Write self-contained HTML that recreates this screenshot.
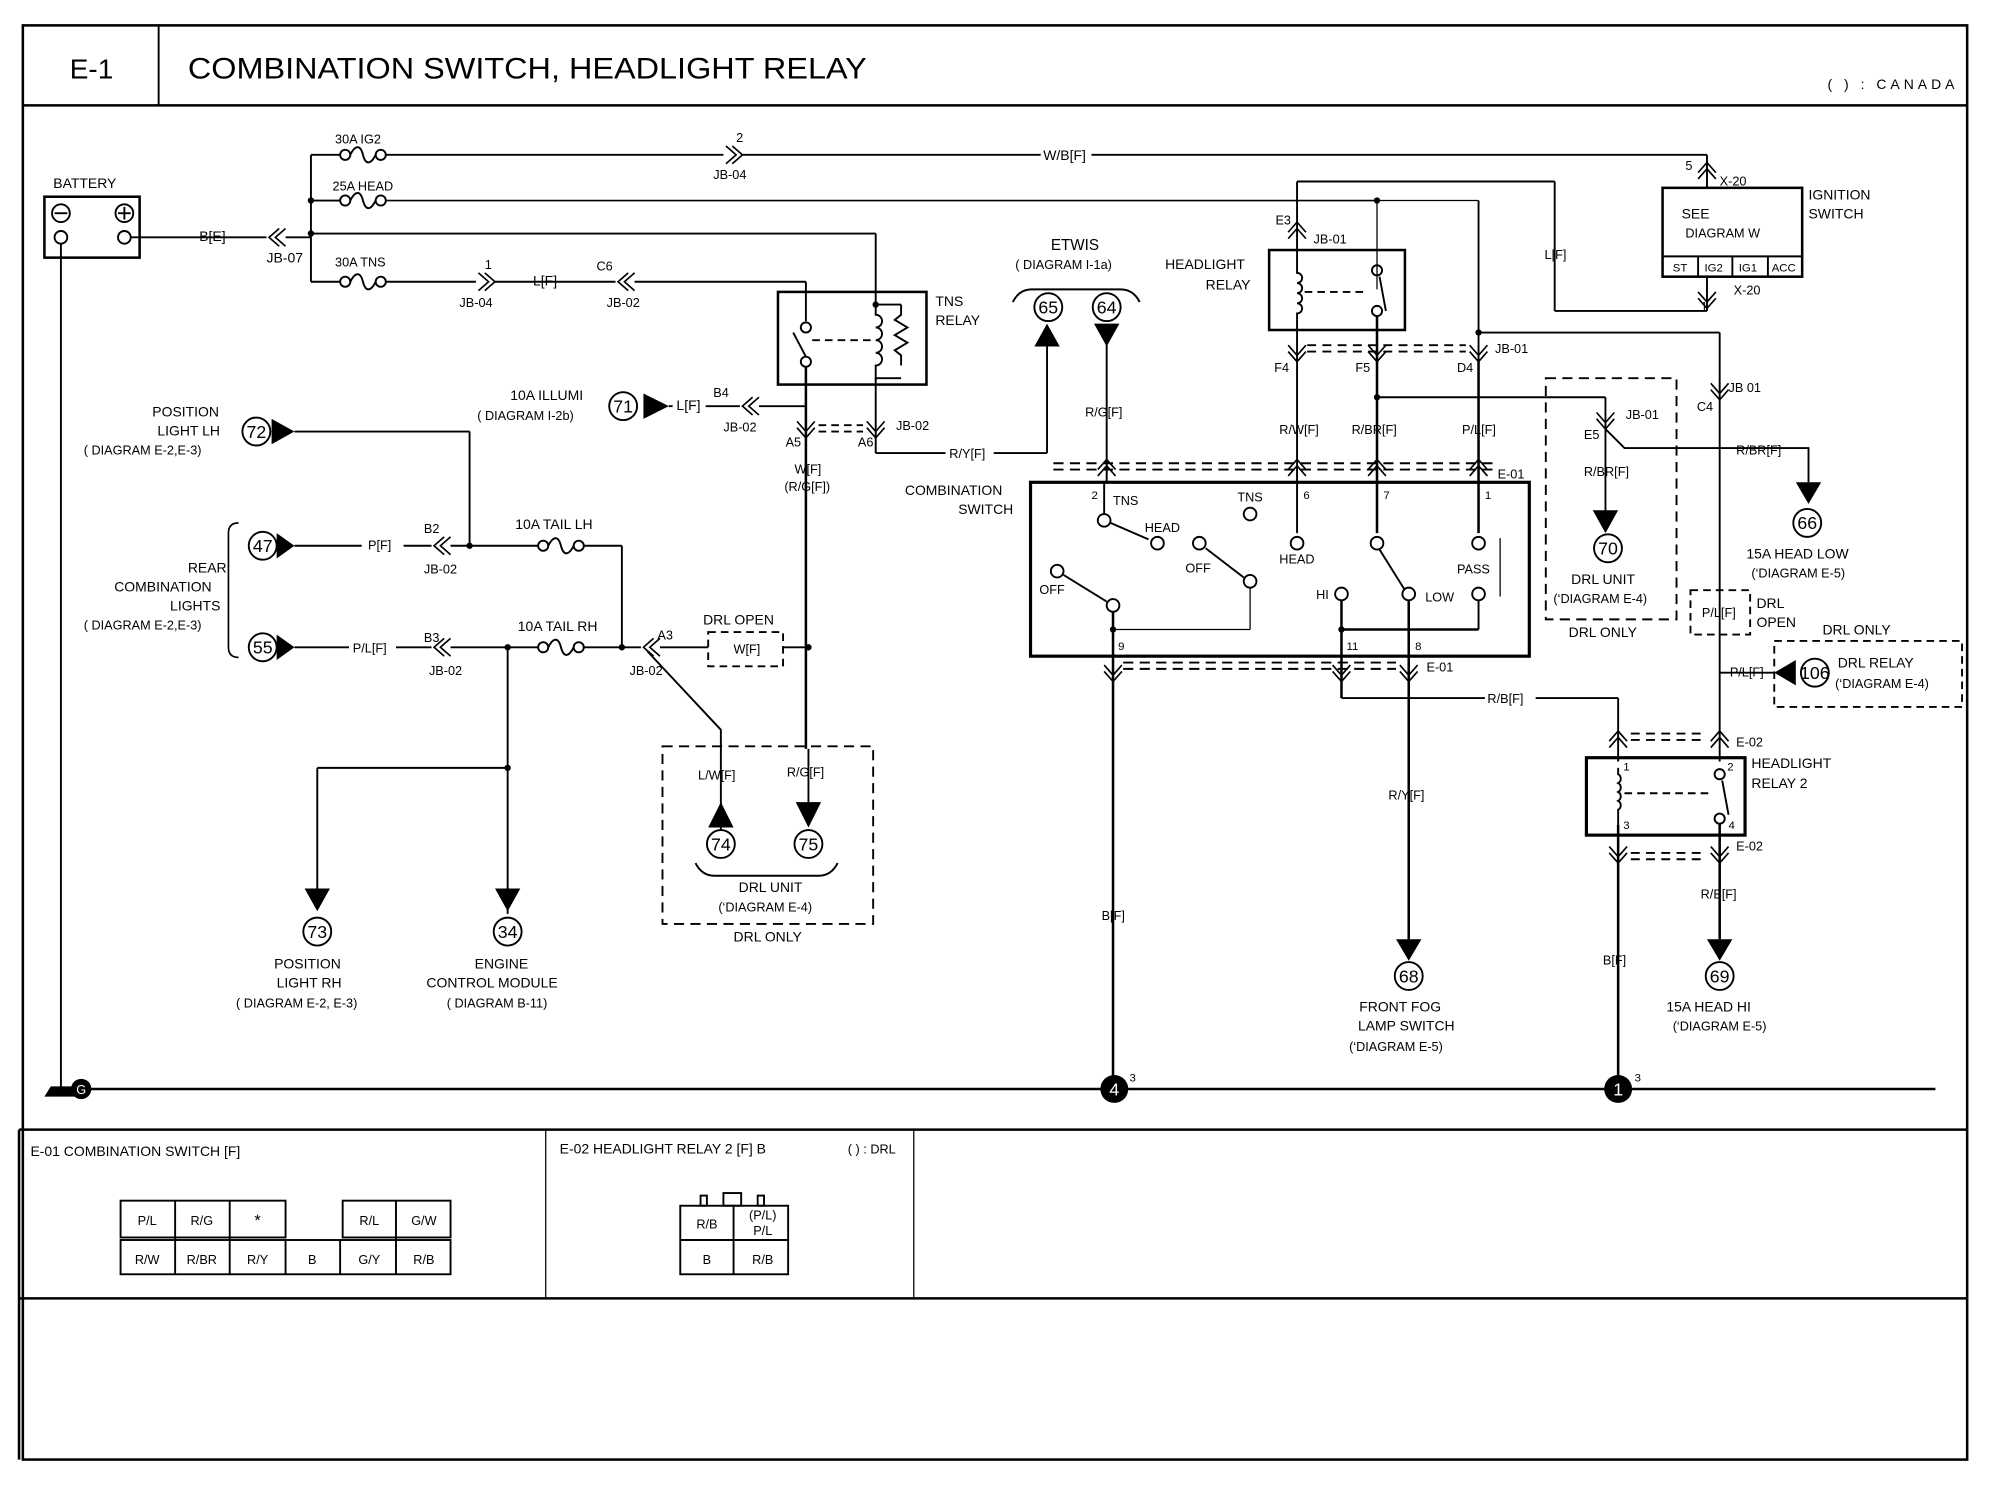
<!DOCTYPE html>
<html><head><style>
html,body{margin:0;padding:0;background:#fff}
svg{display:block}
text{font-family:"Liberation Sans",sans-serif;fill:#000}
</style></head><body>
<svg width="1990" height="1504" viewBox="0 0 1568 1185" preserveAspectRatio="none" xmlns="http://www.w3.org/2000/svg">
<defs>
<g id="cl" fill="none" stroke="#000" stroke-width="1.3"><polyline points="8,-7 0,0 8,7"/><polyline points="13,-7 5,0 13,7"/></g>
<g id="cr" fill="none" stroke="#000" stroke-width="1.3"><polyline points="-8,-7 0,0 -8,7"/><polyline points="-13,-7 -5,0 -13,7"/></g>
<g id="cd" fill="none" stroke="#000" stroke-width="1.3"><polyline points="-7,-8 0,0 7,-8"/><polyline points="-7,-13 0,-5 7,-13"/></g>
<g id="cu" fill="none" stroke="#000" stroke-width="1.3"><polyline points="-7,8 0,0 7,8"/><polyline points="-7,13 0,5 7,13"/></g>
<g id="fuse" fill="none" stroke="#000" stroke-width="1.5"><circle cx="4" cy="0" r="4"/><circle cx="32" cy="0" r="4"/><path d="M8,0 c4,-8 8,-8 10,0 c2,8 6,8 10,0"/></g>
</defs>
<g fill="none" stroke="#000">
<rect x="18" y="20" width="1532" height="1130" stroke-width="2"/>
<line x1="18" y1="83" x2="1550" y2="83" stroke-width="2"/>
<line x1="125" y1="20" x2="125" y2="83" stroke-width="1.5"/>
<line x1="15" y1="890" x2="1550" y2="890" stroke-width="2"/>
<line x1="15" y1="1023" x2="1550" y2="1023" stroke-width="2"/>
<line x1="430" y1="890" x2="430" y2="1023"/>
<line x1="720" y1="890" x2="720" y2="1023"/>
<line x1="15" y1="890" x2="15" y2="1150" stroke-width="2"/>
</g>
<text x="55" y="62" font-size="22">E-1</text>
<text x="148" y="62" font-size="23" textLength="535" lengthAdjust="spacingAndGlyphs">COMBINATION SWITCH, HEADLIGHT RELAY</text>
<text x="1440" y="70" font-size="11" textLength="100">(    ) : CANADA</text>

<g fill="none" stroke="#000" stroke-width="1.5">
<rect x="35" y="155" width="75" height="48" stroke-width="2"/>
<circle cx="48" cy="168" r="7"/><line x1="43" y1="168" x2="53" y2="168"/>
<circle cx="98" cy="168" r="7"/><line x1="93" y1="168" x2="103" y2="168"/><line x1="98" y1="163" x2="98" y2="173"/>
<circle cx="48" cy="187" r="5"/><circle cx="98" cy="187" r="5"/>
<line x1="48" y1="192" x2="48" y2="858"/>
<line x1="103" y1="187" x2="210" y2="187"/>
<line x1="225" y1="187" x2="245" y2="187"/>
<line x1="245" y1="122" x2="245" y2="222"/>
<line x1="245" y1="122" x2="268" y2="122"/><line x1="304" y1="122" x2="570" y2="122"/><line x1="585" y1="122" x2="820" y2="122"/><line x1="860" y1="122" x2="1345" y2="122"/><line x1="1345" y1="122" x2="1345" y2="148"/>
<line x1="245" y1="158" x2="268" y2="158"/><line x1="304" y1="158" x2="1085" y2="158" stroke-width="1.3"/>
<line x1="1085" y1="158" x2="1165" y2="158" stroke-width="1"/><line x1="1165" y1="158" x2="1165" y2="285"/>
<line x1="1085" y1="158" x2="1085" y2="228" stroke-width="1"/>
<line x1="1022" y1="143" x2="1225" y2="143"/><line x1="1022" y1="143" x2="1022" y2="210"/>
<line x1="1225" y1="143" x2="1225" y2="245"/><line x1="1225" y1="245" x2="1345" y2="245"/><line x1="1345" y1="245" x2="1345" y2="218"/>
<line x1="1165" y1="262" x2="1355" y2="262"/><line x1="1355" y1="262" x2="1355" y2="600"/>
<line x1="245" y1="184" x2="690" y2="184"/><line x1="690" y1="184" x2="690" y2="238"/>
<line x1="245" y1="222" x2="268" y2="222"/><line x1="304" y1="222" x2="375" y2="222"/><line x1="390" y1="222" x2="485" y2="222"/><line x1="500" y1="222" x2="635" y2="222"/><line x1="635" y1="222" x2="635" y2="253"/>
<rect x="613" y="230" width="117" height="73" stroke-width="2"/>
<circle cx="635" cy="258" r="4"/><circle cx="635" cy="285" r="4"/><line x1="635" y1="281" x2="625" y2="262"/>
<line x1="640" y1="268" x2="688" y2="268" stroke-dasharray="6,4"/>
<path d="M690,238 v10 a5,5 0 0 1 0,10 a5,5 0 0 1 0,10 a5,5 0 0 1 0,10 a5,5 0 0 1 0,10 v12"/>
<line x1="690" y1="240" x2="710" y2="240"/><line x1="690" y1="298" x2="710" y2="298"/>
<path d="M710,240 v8 l-5,4 l10,6 l-10,6 l10,6 l-10,6 l5,4 v8"/>
<line x1="635" y1="289" x2="635" y2="590" stroke-width="2"/>
<line x1="690" y1="298" x2="690" y2="357"/><line x1="690" y1="357" x2="745" y2="357"/><line x1="783" y1="357" x2="825" y2="357"/><line x1="825" y1="357" x2="825" y2="270"/>
<line x1="645" y1="335" x2="680" y2="335" stroke-dasharray="6,4"/><line x1="645" y1="340" x2="680" y2="340" stroke-dasharray="6,4"/>
<line x1="635" y1="320" x2="598" y2="320"/><line x1="583" y1="320" x2="556" y2="320"/><line x1="530" y1="320" x2="527" y2="320"/>
<line x1="370" y1="340" x2="232" y2="340"/><line x1="370" y1="340" x2="370" y2="430"/>
<line x1="232" y1="430" x2="285" y2="430"/><line x1="318" y1="430" x2="340" y2="430"/><line x1="355" y1="430" x2="424" y2="430"/><line x1="460" y1="430" x2="490" y2="430"/><line x1="490" y1="430" x2="490" y2="510"/>
<line x1="232" y1="510" x2="275" y2="510"/><line x1="312" y1="510" x2="340" y2="510"/><line x1="355" y1="510" x2="424" y2="510"/><line x1="460" y1="510" x2="505" y2="510"/><line x1="520" y1="510" x2="558" y2="510"/><line x1="617" y1="510" x2="637" y2="510"/>
<rect x="558" y="498" width="59" height="27" stroke-dasharray="6,4"/>
<line x1="400" y1="510" x2="400" y2="720"/><line x1="400" y1="605" x2="250" y2="605"/><line x1="250" y1="605" x2="250" y2="715"/>
<polyline points="510,513 568,575 568,640"/>
<rect x="522" y="588" width="166" height="140" stroke-dasharray="8,5"/>
<path d="M548,680 q5,10 15,10 h82 q10,0 15,-10"/>
<path d="M188,412 q-8,0 -8,8 v90 q0,8 8,8" stroke-width="1.3"/>
<line x1="637" y1="590" x2="637" y2="635"/><line x1="568" y1="635" x2="568" y2="655"/>
<path d="M798,238 q5,-10 15,-10 h70 q10,0 15,10"/>
<line x1="872" y1="270" x2="872" y2="380"/>
<rect x="1000" y="197" width="107" height="63" stroke-width="2"/>
<path d="M1022,210 v5 a4,4 0 0 1 0,8 a4,4 0 0 1 0,8 a4,4 0 0 1 0,8 a4,4 0 0 1 0,8 v5"/>
<line x1="1028" y1="230" x2="1075" y2="230" stroke-dasharray="6,4"/>
<circle cx="1085" cy="213" r="4"/><circle cx="1085" cy="245" r="4"/><line x1="1087" y1="218" x2="1092" y2="245"/>
<line x1="1022" y1="252" x2="1022" y2="420"/><line x1="1085" y1="249" x2="1085" y2="420" stroke-width="2"/><line x1="1165" y1="285" x2="1165" y2="420" stroke-width="2"/>
<line x1="1030" y1="272" x2="1155" y2="272" stroke-dasharray="7,5"/><line x1="1030" y1="277" x2="1155" y2="277" stroke-dasharray="7,5"/>
<line x1="1085" y1="313" x2="1265" y2="313"/><polyline points="1265,313 1265,338 1280,353 1420,353 1425,353 1425,380"/>
<line x1="1265" y1="338" x2="1265" y2="405"/>
<rect x="1218" y="298" width="103" height="190" stroke-dasharray="8,5"/>
<rect x="1332" y="465" width="47" height="35" stroke-dasharray="6,4"/>
<rect x="1398" y="505" width="148" height="52" stroke-dasharray="6,4"/>
<line x1="1355" y1="530" x2="1380" y2="530"/><line x1="1380" y1="530" x2="1398" y2="530"/>
<rect x="1310" y="148" width="110" height="70" stroke-width="2"/>
<line x1="1310" y1="202" x2="1420" y2="202"/><line x1="1338" y1="202" x2="1338" y2="218"/><line x1="1365" y1="202" x2="1365" y2="218"/><line x1="1393" y1="202" x2="1393" y2="218"/>
<rect x="812" y="380" width="393" height="137" stroke-width="2.5"/>
<line x1="830" y1="365" x2="1180" y2="365" stroke-dasharray="8,5"/><line x1="830" y1="370" x2="1180" y2="370" stroke-dasharray="8,5"/>
<line x1="870" y1="380" x2="870" y2="405"/><circle cx="870" cy="410" r="5"/><line x1="875" y1="412" x2="905" y2="425"/><circle cx="912" cy="428" r="5"/>
<circle cx="985" cy="405" r="5"/>
<circle cx="1022" cy="428" r="5"/><circle cx="1085" cy="428" r="5"/><circle cx="1165" cy="428" r="5"/>
<line x1="1087" y1="433" x2="1107" y2="465"/>
<circle cx="945" cy="428" r="5"/><circle cx="985" cy="458" r="5"/><line x1="980" y1="455" x2="950" y2="432"/><line x1="985" y1="463" x2="985" y2="496" stroke-width="1"/>
<circle cx="833" cy="450" r="5"/><circle cx="877" cy="477" r="5"/><line x1="872" y1="474" x2="838" y2="453"/>
<line x1="877" y1="482" x2="877" y2="858" stroke-width="2"/><line x1="877" y1="496" x2="985" y2="496" stroke-width="1"/>
<circle cx="1057" cy="468" r="5"/><circle cx="1110" cy="468" r="5"/><circle cx="1165" cy="468" r="5"/>
<line x1="1182" y1="424" x2="1182" y2="470" stroke-width="1"/>
<line x1="1057" y1="473" x2="1057" y2="550" stroke-width="2"/><line x1="1057" y1="496" x2="1165" y2="496" stroke-width="2"/><line x1="1165" y1="473" x2="1165" y2="496"/>
<line x1="1110" y1="473" x2="1110" y2="740" stroke-width="2"/>
<line x1="885" y1="522" x2="1100" y2="522" stroke-dasharray="8,5"/><line x1="885" y1="527" x2="1100" y2="527" stroke-dasharray="8,5"/>
<line x1="1057" y1="550" x2="1170" y2="550"/><line x1="1210" y1="550" x2="1275" y2="550"/><line x1="1275" y1="550" x2="1275" y2="600"/>
<rect x="1250" y="597" width="125" height="61" stroke-width="2.5"/>
<path d="M1275,605 v5 a4,4 0 0 1 0,7 a4,4 0 0 1 0,7 a4,4 0 0 1 0,7 a4,4 0 0 1 0,7 v12"/>
<line x1="1280" y1="625" x2="1350" y2="625" stroke-dasharray="6,4"/>
<circle cx="1355" cy="610" r="4"/><circle cx="1355" cy="645" r="4"/><line x1="1357" y1="615" x2="1362" y2="642"/>
<line x1="1275" y1="650" x2="1275" y2="858" stroke-width="2"/><line x1="1355" y1="649" x2="1355" y2="740" stroke-width="2"/>
<line x1="1285" y1="578" x2="1345" y2="578" stroke-dasharray="7,5"/><line x1="1285" y1="583" x2="1345" y2="583" stroke-dasharray="7,5"/>
<line x1="1285" y1="672" x2="1345" y2="672" stroke-dasharray="7,5"/><line x1="1285" y1="677" x2="1345" y2="677" stroke-dasharray="7,5"/>
<line x1="60" y1="858" x2="1525" y2="858" stroke-width="2"/>
</g>
<use href="#fuse" x="268" y="122"/><use href="#fuse" x="268" y="158"/><use href="#fuse" x="268" y="222"/>
<use href="#fuse" x="424" y="430"/><use href="#fuse" x="424" y="510"/>
<use href="#cl" x="212" y="187"/><use href="#cr" x="585" y="122"/><use href="#cr" x="390" y="222"/><use href="#cl" x="487" y="222"/>
<use href="#cl" x="585" y="320"/><use href="#cl" x="342" y="430"/><use href="#cl" x="342" y="510"/><use href="#cl" x="507" y="510"/>
<use href="#cd" x="635" y="345"/><use href="#cd" x="690" y="345"/>
<use href="#cu" x="1345" y="128"/><use href="#cd" x="1345" y="243"/><use href="#cu" x="1022" y="175"/>
<use href="#cd" x="1022" y="285"/><use href="#cd" x="1085" y="285"/><use href="#cd" x="1165" y="285"/><use href="#cd" x="1355" y="315"/><use href="#cd" x="1265" y="338"/>
<use href="#cu" x="872" y="362"/><use href="#cu" x="1022" y="362"/><use href="#cu" x="1085" y="362"/><use href="#cu" x="1165" y="362"/>
<use href="#cd" x="877" y="537"/><use href="#cd" x="1057" y="537"/><use href="#cd" x="1110" y="537"/>
<use href="#cu" x="1275" y="576"/><use href="#cu" x="1355" y="576"/><use href="#cd" x="1275" y="680"/><use href="#cd" x="1355" y="680"/>
<g fill="#000">
<circle cx="370" cy="430" r="2.5"/><circle cx="400" cy="510" r="2.5"/><circle cx="490" cy="510" r="2.5"/><circle cx="637" cy="510" r="2.5"/><circle cx="400" cy="605" r="2.5"/>
<circle cx="245" cy="158" r="2.5"/><circle cx="245" cy="184" r="2.5"/><circle cx="1085" cy="158" r="2.5"/><circle cx="1165" cy="262" r="2.5"/><circle cx="1085" cy="313" r="2.5"/>
<circle cx="877" cy="496" r="2.5"/><circle cx="1057" cy="496" r="2.5"/><circle cx="690" cy="240" r="2.5"/>
<polygon points="527,320 507,310 507,330"/><polygon points="232,340 214,330 214,350"/><polygon points="232,430 218,420 218,440"/><polygon points="232,510 218,500 218,520"/>
<polygon points="250,718 240,700 260,700"/><polygon points="400,718 390,700 410,700"/><polygon points="568,632 558,652 578,652"/><polygon points="637,652 627,632 647,632"/>
<polygon points="825,255 815,273 835,273"/><polygon points="872,273 862,255 882,255"/>
<polygon points="1265,420 1255,402 1275,402"/><polygon points="1425,397 1415,380 1435,380"/><polygon points="1110,757 1100,740 1120,740"/><polygon points="1355,757 1345,740 1365,740"/>
<polygon points="1398,530 1415,520 1415,540"/>
<circle cx="878" cy="858" r="11"/><circle cx="1275" cy="858" r="11"/>
<path d="M35,864 l5,-8 h20 l5,8 z"/><circle cx="64" cy="858" r="8" fill="#000"/>
</g>
<g fill="#fff" stroke="#000" stroke-width="1.5">
<circle cx="491" cy="320" r="11"/><circle cx="202" cy="340" r="11"/><circle cx="207" cy="430" r="11"/><circle cx="207" cy="510" r="11"/>
<circle cx="250" cy="734" r="11"/><circle cx="400" cy="734" r="11"/><circle cx="568" cy="665" r="11"/><circle cx="637" cy="665" r="11"/>
<circle cx="826" cy="242" r="11"/><circle cx="872" cy="242" r="11"/><circle cx="1267" cy="432" r="11"/><circle cx="1424" cy="412" r="11"/>
<circle cx="1430" cy="530" r="11"/><circle cx="1110" cy="769" r="11"/><circle cx="1355" cy="769" r="11"/>
</g>
<g font-size="14" text-anchor="middle">
<text x="491" y="325">71</text><text x="202" y="345">72</text><text x="207" y="435">47</text><text x="207" y="515">55</text>
<text x="250" y="739">73</text><text x="400" y="739">34</text><text x="568" y="670">74</text><text x="637" y="670">75</text>
<text x="826" y="247">65</text><text x="872" y="247">64</text><text x="1267" y="437">70</text><text x="1424" y="417">66</text>
<text x="1430" y="535">106</text><text x="1110" y="774">68</text><text x="1355" y="774">69</text>
<text x="878" y="863" style="fill:#fff">4</text><text x="1275" y="863" style="fill:#fff">1</text><text x="64" y="862" font-size="10" style="fill:#fff">G</text>
</g>
<g font-size="11">
<text x="42" y="148">BATTERY</text><text x="157" y="190">B[E]</text><text x="210" y="207">JB-07</text>
<text x="264" y="113" font-size="10">30A IG2</text><text x="262" y="150" font-size="10">25A HEAD</text><text x="264" y="210" font-size="10">30A TNS</text>
<text x="580" y="112" font-size="10">2</text><text x="562" y="141" font-size="10">JB-04</text><text x="822" y="126">W/B[F]</text>
<text x="382" y="212" font-size="10">1</text><text x="362" y="242" font-size="10">JB-04</text><text x="420" y="225">L[F]</text><text x="470" y="213" font-size="10">C6</text><text x="478" y="242" font-size="10">JB-02</text>
<text x="737" y="241">TNS</text><text x="737" y="256">RELAY</text>
<text x="402" y="315">10A ILLUMI</text><text x="376" y="331" font-size="10">( DIAGRAM  I-2b)</text>
<text x="533" y="323">L[F]</text><text x="562" y="313" font-size="10">B4</text><text x="570" y="340" font-size="10">JB-02</text>
<text x="619" y="352" font-size="10">A5</text><text x="676" y="352" font-size="10">A6</text><text x="706" y="339" font-size="10">JB-02</text>
<text x="626" y="373" font-size="10">W[F]</text><text x="618" y="387" font-size="10">(R/G[F])</text><text x="748" y="361" font-size="10">R/Y[F]</text>
<text x="120" y="328">POSITION</text><text x="124" y="343">LIGHT LH</text><text x="66" y="358" font-size="10">( DIAGRAM  E-2,E-3)</text>
<text x="148" y="451">REAR</text><text x="90" y="466">COMBINATION</text><text x="134" y="481">LIGHTS</text><text x="66" y="496" font-size="10">( DIAGRAM  E-2,E-3)</text>
<text x="290" y="433" font-size="10">P[F]</text><text x="334" y="420" font-size="10">B2</text><text x="334" y="452" font-size="10">JB-02</text>
<text x="406" y="417">10A TAIL LH</text><text x="408" y="497">10A TAIL RH</text>
<text x="278" y="514" font-size="10">P/L[F]</text><text x="334" y="506" font-size="10">B3</text><text x="338" y="532" font-size="10">JB-02</text>
<text x="518" y="504" font-size="10">A3</text><text x="496" y="532" font-size="10">JB-02</text><text x="554" y="492">DRL OPEN</text><text x="578" y="515" font-size="10">W[F]</text>
<text x="550" y="614" font-size="10">L/W[F]</text><text x="620" y="612" font-size="10">R/G[F]</text>
<text x="582" y="703">DRL UNIT</text><text x="566" y="718" font-size="10">(‘DIAGRAM  E-4)</text><text x="578" y="742">DRL ONLY</text>
<text x="216" y="763">POSITION</text><text x="218" y="778">LIGHT RH</text><text x="186" y="794" font-size="10">( DIAGRAM  E-2, E-3)</text>
<text x="374" y="763">ENGINE</text><text x="336" y="778">CONTROL MODULE</text><text x="352" y="794" font-size="10">( DIAGRAM  B-11)</text>
<text x="828" y="197" font-size="12">ETWIS</text><text x="800" y="212" font-size="10">( DIAGRAM  I-1a)</text>
<text x="855" y="328" font-size="10">R/G[F]</text>
<text x="918" y="212">HEADLIGHT</text><text x="950" y="228">RELAY</text>
<text x="1005" y="177" font-size="10">E3</text><text x="1035" y="192" font-size="10">JB-01</text>
<text x="1004" y="293" font-size="10">F4</text><text x="1068" y="293" font-size="10">F5</text><text x="1148" y="293" font-size="10">D4</text><text x="1178" y="278" font-size="10">JB-01</text>
<text x="1217" y="204" font-size="10">L[F]</text>
<text x="1325" y="172">SEE</text><text x="1328" y="187" font-size="10">DIAGRAM W</text>
<text x="1318" y="214" font-size="9">ST</text><text x="1343" y="214" font-size="9">IG2</text><text x="1370" y="214" font-size="9">IG1</text><text x="1396" y="214" font-size="9">ACC</text>
<text x="1425" y="157">IGNITION</text><text x="1425" y="172">SWITCH</text>
<text x="1328" y="134" font-size="10">5</text><text x="1355" y="146" font-size="10">X-20</text><text x="1366" y="232" font-size="10">X-20</text><text x="1340" y="245" font-size="10">1</text>
<text x="1008" y="342" font-size="10">R/W[F]</text><text x="1065" y="342" font-size="10">R/BR[F]</text><text x="1152" y="342" font-size="10">P/L[F]</text>
<text x="1180" y="377" font-size="10">E-01</text>
<text x="713" y="390">COMBINATION</text><text x="755" y="405">SWITCH</text>
<text x="860" y="393" font-size="9">2</text><text x="877" y="398" font-size="10">TNS</text><text x="902" y="419" font-size="10">HEAD</text><text x="975" y="395" font-size="10">TNS</text>
<text x="1027" y="393" font-size="9">6</text><text x="1090" y="393" font-size="9">7</text><text x="1170" y="393" font-size="9">1</text>
<text x="819" y="468" font-size="10">OFF</text><text x="934" y="451" font-size="10">OFF</text><text x="1008" y="444" font-size="10">HEAD</text>
<text x="1148" y="452" font-size="10">PASS</text><text x="1037" y="472" font-size="10">HI</text><text x="1123" y="474" font-size="10">LOW</text>
<text x="881" y="512" font-size="9">9</text><text x="1061" y="512" font-size="9">11</text><text x="1115" y="512" font-size="9">8</text><text x="1124" y="529" font-size="10">E-01</text>
<text x="1172" y="554" font-size="10">R/B[F]</text><text x="1094" y="630" font-size="10">R/Y[F]</text><text x="868" y="725" font-size="10">B[F]</text>
<text x="1071" y="797">FRONT FOG</text><text x="1070" y="812">LAMP SWITCH</text><text x="1063" y="828" font-size="10">(‘DIAGRAM  E-5)</text>
<text x="1362" y="309" font-size="10">JB 01</text><text x="1337" y="324" font-size="10">C4</text>
<text x="1281" y="330" font-size="10">JB-01</text><text x="1248" y="346" font-size="10">E5</text><text x="1368" y="358" font-size="10">R/BR[F]</text>
<text x="1248" y="375" font-size="10">R/BR[F]</text>
<text x="1238" y="460">DRL UNIT</text><text x="1224" y="475" font-size="10">(‘DIAGRAM  E-4)</text><text x="1236" y="502">DRL ONLY</text>
<text x="1376" y="440">15A HEAD LOW</text><text x="1380" y="455" font-size="10">(‘DIAGRAM  E-5)</text>
<text x="1341" y="486" font-size="10">P/L[F]</text><text x="1384" y="479">DRL</text><text x="1384" y="494">OPEN</text><text x="1436" y="500">DRL ONLY</text>
<text x="1448" y="526">DRL RELAY</text><text x="1446" y="542" font-size="10">(‘DIAGRAM  E-4)</text><text x="1363" y="533" font-size="10">P/L[F]</text>
<text x="1368" y="588" font-size="10">E-02</text><text x="1368" y="670" font-size="10">E-02</text>
<text x="1380" y="605">HEADLIGHT</text><text x="1380" y="621">RELAY 2</text>
<text x="1279" y="607" font-size="9">1</text><text x="1361" y="607" font-size="9">2</text><text x="1279" y="653" font-size="9">3</text><text x="1362" y="653" font-size="9">4</text>
<text x="1340" y="708" font-size="10">R/B[F]</text><text x="1263" y="760" font-size="10">B[F]</text>
<text x="1313" y="797">15A HEAD HI</text><text x="1318" y="812" font-size="10">(‘DIAGRAM  E-5)</text>
<text x="890" y="852" font-size="9">3</text><text x="1288" y="852" font-size="9">3</text>
<text x="24" y="911">E-01 COMBINATION SWITCH [F]</text><text x="441" y="909">E-02 HEADLIGHT RELAY 2 [F] B</text><text x="668" y="909" font-size="10">( ) : DRL</text>
</g>
<g fill="none" stroke="#000" stroke-width="1.5">
<rect x="95" y="946" width="130" height="29"/><rect x="270" y="946" width="85" height="29"/>
<rect x="95" y="977" width="260" height="27"/>
<line x1="138" y1="946" x2="138" y2="1004"/><line x1="181" y1="946" x2="181" y2="1004"/><line x1="225" y1="977" x2="225" y2="1004"/><line x1="268" y1="977" x2="268" y2="1004"/><line x1="312" y1="946" x2="312" y2="1004"/>
<rect x="536" y="950" width="85" height="54"/><line x1="536" y1="977" x2="621" y2="977"/><line x1="578" y1="950" x2="578" y2="1004"/>
<rect x="552" y="942" width="5" height="8"/><rect x="570" y="940" width="14" height="10"/><rect x="597" y="942" width="5" height="8"/>
</g>
<g font-size="10" text-anchor="middle">
<text x="116" y="965">P/L</text><text x="159" y="965">R/G</text><text x="203" y="966" font-size="13">*</text><text x="291" y="965">R/L</text><text x="334" y="965">G/W</text>
<text x="116" y="996">R/W</text><text x="159" y="996">R/BR</text><text x="203" y="996">R/Y</text><text x="246" y="996">B</text><text x="291" y="996">G/Y</text><text x="334" y="996">R/B</text>
<text x="557" y="968">R/B</text><text x="601" y="961">(P/L)</text><text x="601" y="973">P/L</text><text x="557" y="996">B</text><text x="601" y="996">R/B</text>
</g>
</svg>
</body></html>
